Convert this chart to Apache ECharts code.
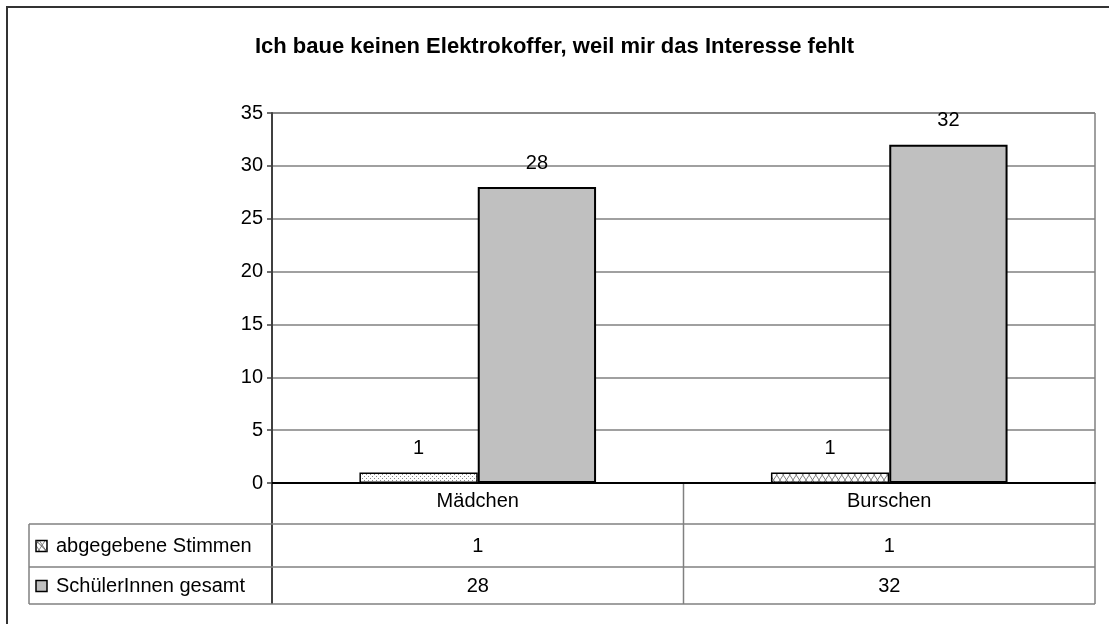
<!DOCTYPE html>
<html>
<head>
<meta charset="utf-8">
<script src="https://cdn.jsdelivr.net/npm/echarts@6/dist/echarts.min.js"></script>
<style>
  html, body { margin: 0; padding: 0; background: #fff; }
  #main { width: 1109px; height: 624px; }
</style>
</head>
<body>
<div id="main"></div>
<script>
const categories = ['Mädchen', 'Burschen']
const seriesNames = ['abgegebene Stimmen', 'SchülerInnen gesamt']
const stimmen = [1, 1]
const gesamt = [28, 32]

const FONT = '"Liberation Sans", Arial, sans-serif'
const FS = 20
const GRID = {left: 272, right: 14, top: 113, bottom: 141}
const W = 1109, H = 624
const plotRight = W - GRID.right
const plotBottom = H - GRID.bottom
// data table rows below the axis
const rowLines = [524, 567, 604]
const tableLeft = 29
const lineColor = '#808080'

// fill patterns like the old excel ones
const dotPattern = (() => {
  const c = document.createElement('canvas')
  c.width = 4; c.height = 4
  const ctx = c.getContext('2d')
  ctx.fillStyle = '#fff'
  ctx.fillRect(0, 0, 4, 4)
  ctx.fillStyle = '#8a8a8a'
  ctx.fillRect(0, 0, 1, 1)
  ctx.fillRect(2, 2, 1, 1)
  return c
})()

const crossPattern = (() => {
  const c = document.createElement('canvas')
  c.width = 13; c.height = 10
  const ctx = c.getContext('2d')
  ctx.fillStyle = '#fff'
  ctx.fillRect(0, 0, 13, 10)
  ctx.strokeStyle = '#808080'
  ctx.lineWidth = 1
  ctx.beginPath()
  ctx.moveTo(0, 0); ctx.lineTo(6.5, 10); ctx.lineTo(13, 0)
  ctx.moveTo(0, 10); ctx.lineTo(6.5, 0); ctx.lineTo(13, 10)
  ctx.stroke()
  return c
})()

const patterns = [dotPattern, crossPattern]

const chart = echarts.init(document.getElementById('main'), null, {renderer: 'canvas'})

const labelStyle = {
  show: true,
  position: 'top',
  distance: 14,
  fontSize: FS,
  fontFamily: FONT,
  color: '#000'
}

chart.setOption({
  backgroundColor: '#fff',
  animation: false,
  title: {
    text: 'Ich baue keinen Elektrokoffer, weil mir das Interesse fehlt',
    left: 'center',
    top: 31,
    textStyle: {fontSize: 22, fontWeight: 'bold', fontFamily: FONT, color: '#000'}
  },
  grid: GRID,
  xAxis: {
    type: 'category',
    data: categories,
    axisLine: {lineStyle: {color: '#000', width: 2}},
    axisTick: {show: false},
    axisLabel: {fontSize: FS, fontFamily: FONT, color: '#000', margin: 8}
  },
  yAxis: {
    type: 'value',
    min: 0,
    max: 35,
    interval: 5,
    axisLine: {show: true, lineStyle: {color: '#404040', width: 2}},
    axisTick: {show: true, length: 5, lineStyle: {color: '#404040', width: 1.5}},
    axisLabel: {fontSize: FS, fontFamily: FONT, color: '#000', margin: 9},
    splitLine: {lineStyle: {color: lineColor, width: 1.5}}
  },
  series: [
    {
      name: seriesNames[0],
      type: 'bar',
      barGap: '0%',
      barCategoryGap: '42.5%',
      data: stimmen.map((v, i) => ({
        value: v,
        itemStyle: {color: {image: patterns[i], repeat: 'repeat'}}
      })),
      itemStyle: {borderColor: '#000', borderWidth: 1.5},
      label: labelStyle
    },
    {
      name: seriesNames[1],
      type: 'bar',
      data: gesamt,
      itemStyle: {color: '#c0c0c0', borderColor: '#000', borderWidth: 2},
      label: labelStyle
    }
  ]
})

// data table + frame
const line = (x1, y1, x2, y2, color, width) => ({
  type: 'line',
  shape: {x1, y1, x2, y2},
  style: {stroke: color || lineColor, lineWidth: width || 1.5},
  silent: true
})
const text = (x, y, str, align) => ({
  type: 'text',
  x, y,
  style: {
    text: str, fontSize: FS, fontFamily: FONT, fill: '#000',
    align: align || 'center', verticalAlign: 'middle'
  },
  silent: true
})

const els = []
// outer chart border, runs off the right/bottom edge
els.push({
  type: 'rect',
  shape: {x: 7, y: 7, width: W + 20, height: H + 20},
  style: {fill: null, stroke: '#333', lineWidth: 2},
  silent: true
})
// plot area top and right edge
els.push(line(GRID.left, GRID.top, plotRight, GRID.top))
els.push(line(plotRight, GRID.top, plotRight, rowLines[2]))
// table verticals
els.push(line(GRID.left, plotBottom, GRID.left, rowLines[2], '#404040', 2))
const catX = categories.map(c => chart.convertToPixel({xAxisIndex: 0}, c))
const midX = (catX[0] + catX[1]) / 2
els.push(line(midX, plotBottom, midX, rowLines[2]))
els.push(line(tableLeft, rowLines[0], tableLeft, rowLines[2]))
rowLines.forEach(y => els.push(line(tableLeft, y, plotRight, y)))

// table rows
const rows = [stimmen, gesamt]
rows.forEach((vals, r) => {
  const cy = (rowLines[r] + rowLines[r + 1]) / 2
  vals.forEach((v, i) => els.push(text(catX[i], cy + 1, String(v))))
  els.push(text(56, cy + 1, seriesNames[r], 'left'))
  // legend key
  const key = {x: 36, y: cy - 5, width: 11, height: 11}
  if (r === 0) {
    els.push({
      type: 'rect', shape: key,
      style: {fill: {image: crossPattern, repeat: 'repeat'}, stroke: '#000', lineWidth: 1.5},
      silent: true
    })
    els.push(line(key.x, key.y, key.x + 11, key.y + 11, '#555', 1))
  } else {
    els.push({
      type: 'rect', shape: key,
      style: {fill: '#c0c0c0', stroke: '#000', lineWidth: 1.5},
      silent: true
    })
  }
})

chart.setOption({graphic: {elements: els}})
</script>
</body>
</html>
